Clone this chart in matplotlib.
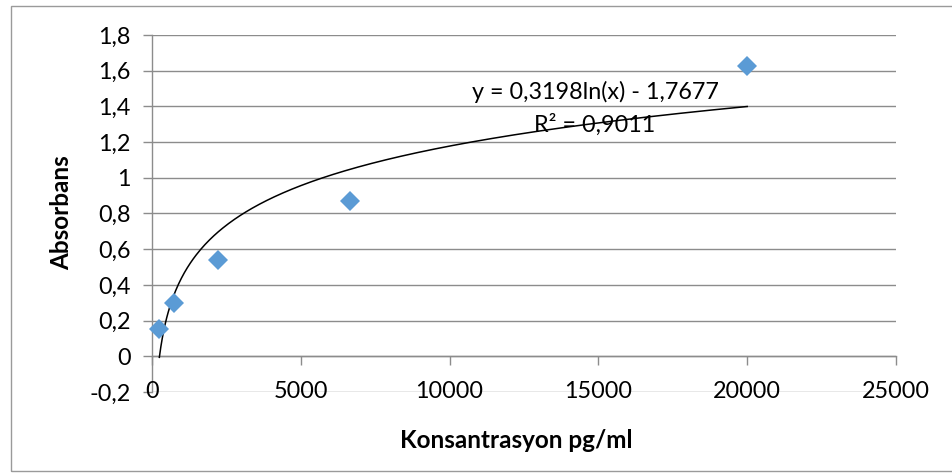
import numpy as np
import matplotlib.pyplot as plt
from matplotlib.patches import Rectangle
import matplotlib.transforms as mtransforms

# standard curve: concentration (pg/ml) vs absorbance
konsantrasyon = [247, 741, 2222, 6667, 20000]
absorbans = [0.155, 0.298, 0.538, 0.868, 1.625]

# log fit from the spreadsheet trendline
fit_a = 0.3198
fit_b = -1.7677
fit_r2 = 0.9011

y_ticks = [-0.2, 0, 0.2, 0.4, 0.6, 0.8, 1.0, 1.2, 1.4, 1.6, 1.8]
y_tick_labels = ["-0,2", "0", "0,2", "0,4", "0,6", "0,8", "1", "1,2", "1,4", "1,6", "1,8"]
x_ticks = [0, 5000, 10000, 15000, 20000, 25000]
x_tick_labels = ["0", "5000", "10000", "15000", "20000", "25000"]

grid_color = "#8c8c8c"
marker_color = "#5b9bd5"
font_name = "Lato"
font_size = 16.8
label_size = 17.5

plt.rcParams['font.family'] = [font_name, 'DejaVu Sans']

W, H = 952, 473
fig = plt.figure(figsize=(W / 100, H / 100), dpi=100)

# outer chart border (right side runs off the canvas)
fig.patches.append(Rectangle((11 / W, 2 / H), (970 - 11) / W, (467 - 2) / H,
                             transform=fig.transFigure, fill=False,
                             edgecolor="#9a9a9a", linewidth=1.0))

left, right = 152 / W, 896 / W
bottom, top = 1 - 392 / H, 1 - 35 / H
ax = fig.add_axes([left, bottom, right - left, top - bottom])

ax.set_xlim(0, 25000)
ax.set_ylim(-0.2, 1.8)

for s in ['top', 'right']:
    ax.spines[s].set_visible(False)
ax.spines['left'].set_color(grid_color)
ax.spines['left'].set_linewidth(1.0)
ax.spines['bottom'].set_position(('data', 0))
ax.spines['bottom'].set_color(grid_color)
ax.spines['bottom'].set_linewidth(1.0)

# horizontal gridlines
ax.set_yticks(y_ticks)
ax.set_yticklabels(y_tick_labels, fontsize=font_size)
ax.yaxis.grid(True, color=grid_color, linewidth=1.0)
ax.set_axisbelow(True)
ax.tick_params(axis='y', direction='out', length=6.5, width=1.0,
               color=grid_color, pad=9)

# x ticks hang below the zero line, labels sit at the bottom row
ax.set_xticks(x_ticks)
ax.set_xticklabels([])
ax.tick_params(axis='x', direction='out', length=6.5, width=1.0, color=grid_color)
trans = mtransforms.blended_transform_factory(ax.transData, ax.transData)
for xv, lab in zip(x_ticks, x_tick_labels):
    ax.text(xv, -0.2, lab, transform=trans, ha='center', va='center',
            fontsize=font_size, clip_on=False)

# trendline over the data range
xs = np.linspace(min(konsantrasyon), max(konsantrasyon), 400)
ax.plot(xs, fit_a * np.log(xs) + fit_b, color='black', linewidth=1.1, zorder=3)

ax.plot(konsantrasyon, absorbans, linestyle='none', marker='D', markersize=10,
        color=marker_color, markeredgewidth=0, zorder=4, clip_on=False)

ax.text(595 / W, 1 - 92 / H, "y = 0,3198ln(x) - 1,7677", transform=fig.transFigure,
        ha='center', va='center', fontsize=font_size)
ax.text(595 / W, 1 - 125 / H, "R² = 0,9011", transform=fig.transFigure,
        ha='center', va='center', fontsize=font_size)

fig.text(62 / W, 1 - 213 / H, "Absorbans", rotation=90, ha='center', va='center',
         fontsize=label_size, fontweight='bold')
fig.text(516 / W, 1 - 440 / H, "Konsantrasyon pg/ml", ha='center', va='center',
         fontsize=label_size, fontweight='bold')

fig.savefig("out.png", dpi=100)
